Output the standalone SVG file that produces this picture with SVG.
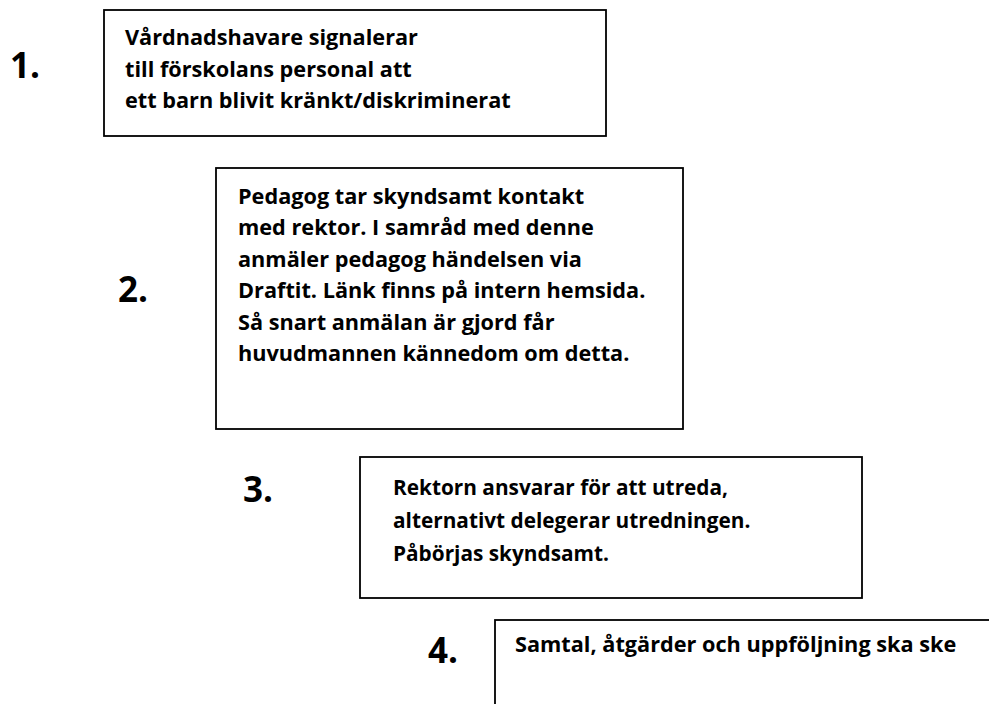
<svg xmlns="http://www.w3.org/2000/svg" width="989" height="704" viewBox="0 0 989 704">
<style>
.box{fill:#fff;stroke:#000;stroke-width:1.8}
.t{font-family:"Open Sans","Liberation Sans",sans-serif;font-weight:bold;font-size:21.7px;fill:#000}
.t3{font-size:20.8px}
.n{font-family:"Open Sans","Liberation Sans",sans-serif;font-weight:bold;font-size:35px;fill:#000}
</style>
<rect width="989" height="704" fill="#fff"/>
<g id="node1">
<text class="n" x="10" y="78">1.</text>
<rect class="box" x="104" y="10" width="502" height="126"/>
<text class="t" x="125" y="45">Vårdnadshavare signalerar</text>
<text class="t" x="125" y="77">till förskolans personal att</text>
<text class="t" x="125" y="108">ett barn blivit kränkt/diskriminerat</text>
</g>
<g id="node2">
<text class="n" x="118" y="302">2.</text>
<rect class="box" x="216" y="168" width="467" height="261"/>
<text class="t" x="238" y="203.5">Pedagog tar skyndsamt kontakt</text>
<text class="t" x="238" y="235">med rektor. I samråd med denne</text>
<text class="t" x="238" y="266.5">anmäler pedagog händelsen via</text>
<text class="t" x="238" y="298">Draftit. Länk finns på intern hemsida.</text>
<text class="t" x="238" y="329.5">Så snart anmälan är gjord får</text>
<text class="t" x="238" y="361">huvudmannen kännedom om detta.</text>
</g>
<g id="node3">
<text class="n" x="243" y="502">3.</text>
<rect class="box" x="360" y="457" width="502" height="141"/>
<text class="t t3" x="393" y="495">Rektorn ansvarar för att utreda,</text>
<text class="t t3" x="393" y="528">alternativt delegerar utredningen.</text>
<text class="t t3" x="393" y="561">Påbörjas skyndsamt.</text>
</g>
<g id="node4">
<text class="n" x="428" y="663">4.</text>
<rect class="box" x="495" y="620" width="510" height="100"/>
<text class="t" x="515" y="652">Samtal, åtgärder och uppföljning ska ske</text>
</g>
<g id="connectors"></g>
</svg>
